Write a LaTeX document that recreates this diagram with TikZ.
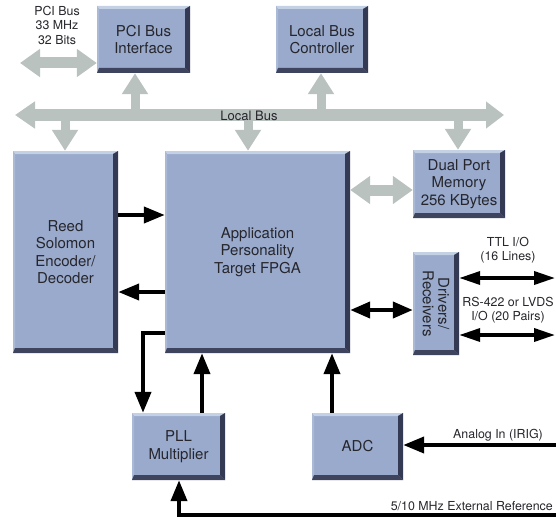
\documentclass[tikz,border=0pt]{standalone}
\usepackage{fontspec}
\setmainfont{TeX Gyre Heros}
\usetikzlibrary{arrows.meta}
\definecolor{boxfill}{RGB}{153,170,204}
\definecolor{boxdark}{RGB}{52,58,84}
\definecolor{boxdarkb}{RGB}{62,68,94}
\definecolor{boxlight}{RGB}{196,208,228}
\definecolor{boxlightl}{RGB}{170,186,214}
\definecolor{busgray}{RGB}{186,194,192}
\definecolor{txt}{RGB}{38,38,44}
\begin{document}
\begin{tikzpicture}[x=1pt,y=-1pt,
  bevel/.style={fill=boxfill, inner sep=0pt, align=center, text=txt,
    font=\fontsize{15}{17.5}\selectfont,
    path picture={
      \coordinate (bNE) at (path picture bounding box.north east);
      \coordinate (bNW) at (path picture bounding box.north west);
      \coordinate (bSE) at (path picture bounding box.south east);
      \coordinate (bSW) at (path picture bounding box.south west);
      \fill[boxlight] (bNW) -- (bNE) -- ([shift={(-5pt,-3pt)}]bNE) -- ([shift={(2pt,-3pt)}]bNW) -- cycle;
      \fill[boxlightl] (bNW) -- (bSW) -- ([shift={(2pt,5pt)}]bSW) -- ([shift={(2pt,-3pt)}]bNW) -- cycle;
      \fill[boxdarkb] (bSW) -- (bSE) -- ([shift={(-5pt,5pt)}]bSE) -- ([shift={(2pt,5pt)}]bSW) -- cycle;
      \fill[boxdark] (bNE) -- (bSE) -- ([shift={(-5pt,5pt)}]bSE) -- ([shift={(-5pt,-3pt)}]bNE) -- cycle;
    }},
  lbl/.style={text=txt, align=center, inner sep=0pt, font=\fontsize{12.4}{14.5}\selectfont},
  graybus/.style={draw=busgray, line width=11pt, {Triangle[width=26pt,length=20pt]}-{Triangle[width=26pt,length=18pt]}},
  graybranch/.style={draw=busgray, line width=9pt, -{Triangle[width=25pt,length=21pt]}},
  graydbl/.style={draw=busgray, line width=11pt, {Triangle[width=27pt,length=20pt]}-{Triangle[width=27pt,length=20pt]}},
  blk/.style={draw=black, line width=4pt, -{Triangle[width=16pt,length=21pt]}},
  blkdbl/.style={draw=black, line width=4pt, {Triangle[width=16pt,length=20pt]}-{Triangle[width=16pt,length=20pt]}},
  ttl/.style={draw=black, line width=3.5pt, {Triangle[width=13pt,length=21pt]}-{Triangle[width=13pt,length=21pt]}}
]
\useasboundingbox (0,0) rectangle (556,516);

% boxes
\node[bevel, minimum width=93pt, minimum height=67pt] (pci) at (143.5,39.5) {PCI Bus\\Interface};
\node[bevel, minimum width=92pt, minimum height=67pt] (lbc) at (322,39.5) {Local Bus\\Controller};
\node[bevel, minimum width=105pt, minimum height=202pt] (rs) at (65.5,252) {Reed\\Solomon\\Encoder/\\Decoder};
\node[bevel, minimum width=185pt, minimum height=202pt] (fpga) at (257.5,252) {Application\\Personality\\Target FPGA};
\node[bevel, minimum width=92pt, minimum height=68pt] (dpm) at (459,184) {Dual Port\\Memory\\256 KBytes};
\node[bevel, minimum width=46pt, minimum height=103pt] (drv) at (436,303.5) {};
\node[text=txt, align=center, inner sep=0pt, rotate=-90, font=\fontsize{15}{15.5}\selectfont] (drvtext) at (drv.center) {Drivers/\\Receivers};
\node[bevel, minimum width=93pt, minimum height=67pt] (pll) at (178.5,446.5) {PLL\\Multiplier};
\node[bevel, minimum width=91pt, minimum height=67pt] (adc) at (357.5,446.5) {ADC};

% local bus
\coordinate (busL) at (15,115);
\coordinate (busR) at (504,115);
\coordinate (pcifree) at (20,63);
\draw[graybus] (busL) -- (busR);
\coordinate (br1) at (135,115);
\coordinate (br2) at (65,115);
\coordinate (br3) at (248,115);
\coordinate (br4) at (321,115);
\coordinate (br5) at (458,115);
\draw[graybranch] (br1) -- (br1 |- pci.south);
\draw[graybranch] (br2) -- (br2 |- rs.north);
\draw[graybranch] (br3) -- (br3 |- fpga.north);
\draw[graybranch] (br4) -- (br4 |- lbc.south);
\draw[graybranch] (br5) -- (br5 |- dpm.north);
\draw[graydbl] (pcifree) -- (pcifree -| pci.west);
\draw[graydbl] (fpga.east |- 0,190) -- (dpm.west |- 0,190);

% black connectors
\draw[blk] (rs.east |- 0,215) -- (fpga.west |- 0,215);
\draw[blk] (fpga.west |- 0,292) -- (rs.east |- 0,292);
\draw[blkdbl] (fpga.east |- 0,310) -- (drv.west |- 0,310);
\coordinate (ttlR) at (555,278);
\coordinate (lvdsR) at (555,335);
\draw[ttl] (drv.east |- ttlR) -- (ttlR);
\draw[ttl] (drv.east |- lvdsR) -- (lvdsR);
\draw[blk] (fpga.west |- 0,333) -| (pll.north -| 143,0);
\draw[blk] (pll.north -| 202,0) -- (fpga.south -| 202,0);
\draw[blk] (adc.north -| 332,0) -- (fpga.south -| 332,0);
\coordinate (anaR) at (560,445);
\draw[blk] (anaR) -- (adc.east |- anaR);
\coordinate (extR) at (560,515);
\draw[blk] (extR) -| (pll.south -| 179,0);

% labels
\node[lbl] (pcilbl) at (57,25) {PCI Bus\\33 MHz\\32 Bits};
\node[lbl, font=\fontsize{13}{15}\selectfont] (buslbl) at (249,116) {Local Bus};
\node[lbl] (ttllbl) at (508,250) {TTL I/O\\(16 Lines)};
\node[lbl] (lvdslbl) at (508,310) {RS-422 or LVDS\\I/O (20 Pairs)};
\node[lbl] (analbl) at (498,435) {Analog In (IRIG)};
\node[lbl, anchor=east] (extlbl) at (553,506) {5/10 MHz External Reference};
\end{tikzpicture}
\end{document}
